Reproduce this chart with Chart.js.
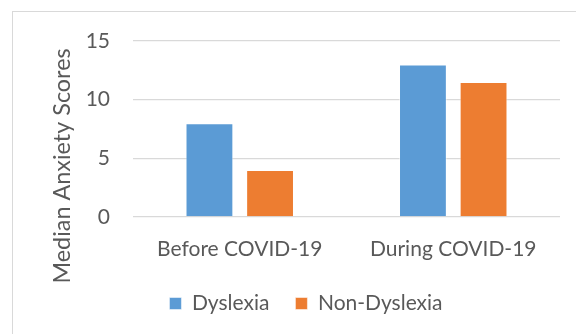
<!DOCTYPE html>
<html>
<head>
<meta charset="utf-8">
<script src="https://cdn.jsdelivr.net/npm/chart.js@4/dist/chart.umd.min.js"></script>
<style>
  html, body { margin: 0; padding: 0; background: #ffffff; }
  #wrap { width: 576px; height: 334px; position: relative; }
</style>
</head>
<body>
<div id="wrap"><canvas id="chart" width="576" height="334"></canvas></div>
<script>
// Categories, series and axis ticks
const categories = ['Before COVID-19', 'During COVID-19'];
const dyslexia = [8, 13];
const nonDyslexia = [4, 11.5];
const yTicks = [0, 5, 10, 15];
const yTitle = 'Median Anxiety Scores';

const TEXT = '#595959';
const GRID = '#d9d9d9';
const FONT = 'Lato, "Open Sans", sans-serif';

// Thin frame around the chart area (the frame runs off the right and bottom edges)
const frame = {
  id: 'frame',
  beforeDraw(chart) {
    const ctx = chart.ctx;
    ctx.save();
    ctx.strokeStyle = GRID;
    ctx.lineWidth = 1;
    ctx.strokeRect(12.5, 11.5, 800, 600);
    ctx.restore();
  }
};

// Vertical axis title, centred on the whole frame height rather than the plot
const sideTitle = {
  id: 'sideTitle',
  afterDraw(chart) {
    const ctx = chart.ctx;
    ctx.save();
    ctx.translate(69.5, 166);
    ctx.rotate(-Math.PI / 2);
    ctx.fillStyle = TEXT;
    ctx.font = '23.4px ' + FONT;
    ctx.textAlign = 'center';
    ctx.textBaseline = 'alphabetic';
    ctx.fillText(yTitle, 0, 0);
    ctx.restore();
  }
};

// Nudge the legend row so its entries sit centred under the plot
const legendShift = {
  id: 'legendShift',
  afterLayout(chart) {
    const lg = chart.legend;
    if (lg) { lg.left += 2; lg.right += 2; }
  }
};

new Chart(document.getElementById('chart'), {
  type: 'bar',
  data: {
    labels: categories,
    datasets: [
      { label: 'Dyslexia', data: dyslexia, backgroundColor: '#5b9bd5',
        borderColor: 'rgba(255,255,255,0.5)', borderWidth: 1,
        categoryPercentage: 0.568, barPercentage: 0.789 },
      { label: 'Non-Dyslexia', data: nonDyslexia, backgroundColor: '#ed7d31',
        borderColor: 'rgba(255,255,255,0.5)', borderWidth: 1,
        categoryPercentage: 0.568, barPercentage: 0.789 }
    ]
  },
  options: {
    responsive: false,
    devicePixelRatio: 1,
    animation: false,
    layout: { padding: { left: 48, right: 16, top: 41, bottom: 10 } },
    plugins: {
      tooltip: { enabled: false },
      legend: {
        position: 'bottom',
        labels: {
          boxWidth: 12, boxHeight: 12, padding: 26,
          color: TEXT, font: { family: FONT, size: 21 }
        }
      }
    },
    scales: {
      x: {
        grid: { display: false },
        border: { display: false },
        ticks: { color: TEXT, font: { family: FONT, size: 21 }, padding: 12 },
        afterFit(scale) { scale.height = 50; }
      },
      y: {
        min: 0, max: 15,
        afterBuildTicks(scale) { scale.ticks = yTicks.map(v => ({ value: v })); },
        grid: { color: GRID, lineWidth: 1.3, drawTicks: false },
        border: { display: false },
        ticks: { color: TEXT, font: { family: FONT, size: 21 }, padding: 23 },
        title: { display: false },
        afterFit(scale) { scale.width = 133 - 48; }
      }
    }
  },
  plugins: [frame, sideTitle, legendShift]
});
</script>
</body>
</html>
